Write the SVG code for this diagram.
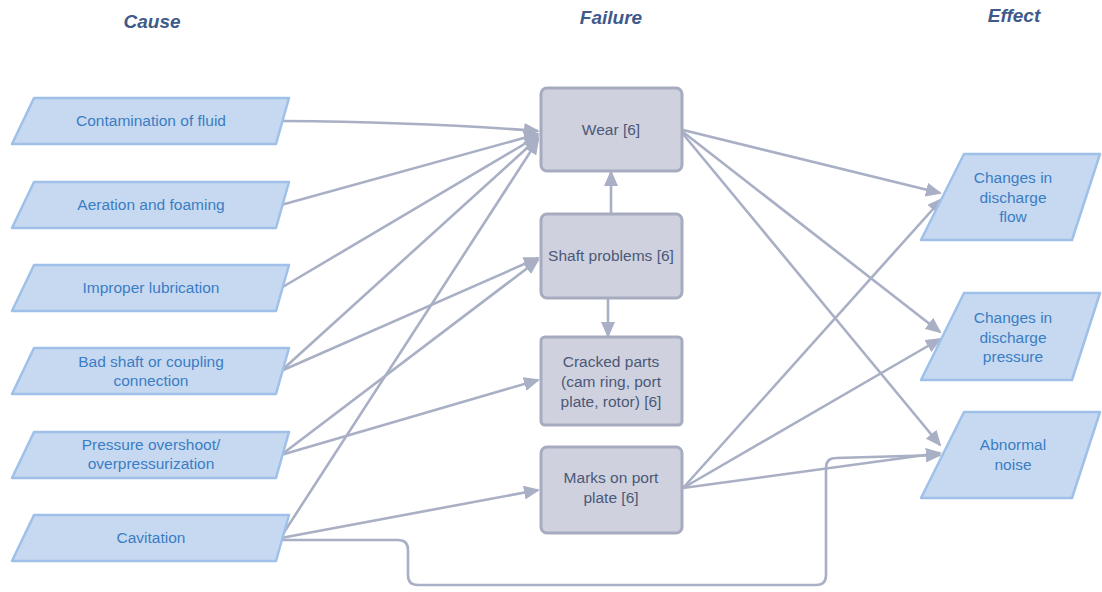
<svg xmlns="http://www.w3.org/2000/svg" width="1102" height="592" viewBox="0 0 1102 592">
<style>
.hdr{font-family:"Liberation Sans",Arial,sans-serif;font-size:19px;font-weight:bold;font-style:italic;fill:#3f5a8a;text-anchor:middle}
.io{fill:#c6d9f1;stroke:#9fc0e8;stroke-width:2.5;stroke-linejoin:round}
.box{fill:#cfd1de;stroke:#a7abc0;stroke-width:3}
.tb{font-family:"Liberation Sans",Arial,sans-serif;font-size:15.5px;fill:#3b7dc4;text-anchor:middle}
.tf{font-family:"Liberation Sans",Arial,sans-serif;font-size:15.5px;fill:#4b5878;text-anchor:middle}
.e{fill:none;stroke:#a9afc4;stroke-width:2.6;marker-end:url(#ah)}
</style>
<defs>
<marker id="ah" markerUnits="userSpaceOnUse" markerWidth="16" markerHeight="14" refX="14" refY="7" orient="auto">
<path d="M0,0 L16,7 L0,14 z" fill="#a9afc4"/>
</marker>
</defs>
<rect width="1102" height="592" fill="#ffffff"/>
<text class="hdr" x="152" y="28">Cause</text>
<text class="hdr" x="611" y="24">Failure</text>
<text class="hdr" x="1014" y="22">Effect</text>

<g id="connectors">
<path class="e" d="M283,121 Q420,122 538,131"/>
<path class="e" d="M281,205 L538,134"/>
<path class="e" d="M281,288 L538,136"/>
<path class="e" d="M281,371 L538,138"/>
<path class="e" d="M281,537 L538,140"/>
<path class="e" d="M281,371 L538,258"/>
<path class="e" d="M281,455 L538,260"/>
<path class="e" d="M281,455 L538,380"/>
<path class="e" d="M281,538 L538,490"/>
<path class="e" d="M611,213 L611,172"/>
<path class="e" d="M608,298 L608,336"/>
<path class="e" d="M683,130 L940,193"/>
<path class="e" d="M683,132 L940,332"/>
<path class="e" d="M683,134 L940,445"/>
<path class="e" d="M683,488 L942,199"/>
<path class="e" d="M683,488 L940,339"/>
<path class="e" d="M683,488 L940,453"/>
<path class="e" d="M281,540 L398,540 Q408,540 408,550 L408,575 Q408,585 418,585 L816,585 Q826,585 826,575 L826,468 Q826,458 836,458 L940,455"/>
</g>

<g id="cause-contamination">
<polygon class="io" points="34,98 289,98 276,144 12,144"/>
<text class="tb" x="151" y="126">Contamination of fluid</text>
</g>
<g id="cause-aeration">
<polygon class="io" points="34,182 289,182 276,228 12,228"/>
<text class="tb" x="151" y="210">Aeration and foaming</text>
</g>
<g id="cause-lubrication">
<polygon class="io" points="34,265 289,265 276,311 12,311"/>
<text class="tb" x="151" y="293">Improper lubrication</text>
</g>
<g id="cause-shaft">
<polygon class="io" points="34,348 289,348 276,394 12,394"/>
<text class="tb" x="151" y="367">Bad shaft or coupling</text>
<text class="tb" x="151" y="386">connection</text>
</g>
<g id="cause-pressure">
<polygon class="io" points="34,432 289,432 276,478 12,478"/>
<text class="tb" x="151" y="450">Pressure overshoot/</text>
<text class="tb" x="151" y="469">overpressurization</text>
</g>
<g id="cause-cavitation">
<polygon class="io" points="34,515 289,515 276,561 12,561"/>
<text class="tb" x="151" y="543">Cavitation</text>
</g>

<g id="fail-wear">
<rect class="box" x="541" y="88" width="141" height="83" rx="6"/>
<text class="tf" x="611" y="135">Wear [6]</text>
</g>
<g id="fail-shaft">
<rect class="box" x="541" y="214" width="141" height="84" rx="6"/>
<text class="tf" x="611" y="261">Shaft problems [6]</text>
</g>
<g id="fail-cracked">
<rect class="box" x="541" y="337" width="141" height="88" rx="4"/>
<text class="tf" x="611" y="367">Cracked parts</text>
<text class="tf" x="611" y="387">(cam ring, port</text>
<text class="tf" x="611" y="407">plate, rotor) [6]</text>
</g>
<g id="fail-marks">
<rect class="box" x="541" y="447" width="141" height="86" rx="6"/>
<text class="tf" x="611" y="483">Marks on port</text>
<text class="tf" x="611" y="503">plate [6]</text>
</g>

<g id="effect-flow">
<polygon class="io" points="964,154 1100,154 1072,240 921,240"/>
<text class="tb" x="1013" y="183">Changes in</text>
<text class="tb" x="1013" y="203">discharge</text>
<text class="tb" x="1013" y="222">flow</text>
</g>
<g id="effect-pressure">
<polygon class="io" points="964,293 1100,293 1072,380 921,380"/>
<text class="tb" x="1013" y="323">Changes in</text>
<text class="tb" x="1013" y="343">discharge</text>
<text class="tb" x="1013" y="362">pressure</text>
</g>
<g id="effect-noise">
<polygon class="io" points="964,412 1100,412 1072,498 921,498"/>
<text class="tb" x="1013" y="450">Abnormal</text>
<text class="tb" x="1013" y="470">noise</text>
</g>
</svg>
